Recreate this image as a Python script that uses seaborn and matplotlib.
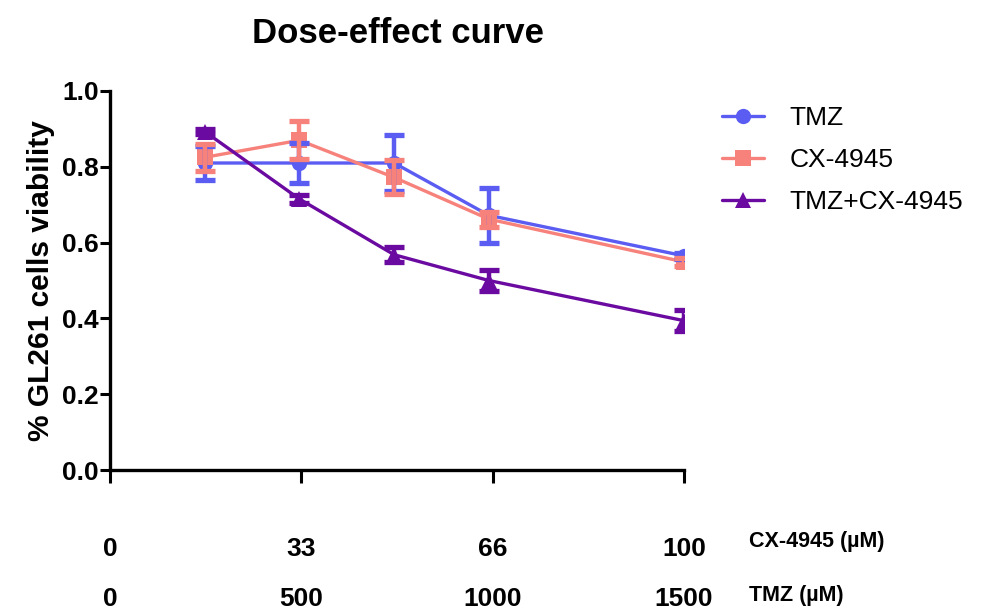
import numpy as np
import pandas as pd
import matplotlib
matplotlib.use("Agg")
import matplotlib.pyplot as plt
import seaborn as sns

# CX-4945 dose (µM) of each measurement; TMZ dose scales alongside it
dose = [16.5, 33, 49.5, 66, 100]

tmz_mean = [0.81, 0.81, 0.81, 0.672, 0.565]
tmz_err = [0.045, 0.053, 0.073, 0.072, 0.008]

cx_mean = [0.825, 0.870, 0.772, 0.662, 0.549]
cx_err = [0.035, 0.050, 0.045, 0.020, 0.010]

combo_mean = [0.893, 0.715, 0.568, 0.500, 0.394]
combo_err = [0.006, 0.010, 0.020, 0.028, 0.027]

series_names = ["TMZ", "CX-4945", "TMZ+CX-4945"]
colors = ["#5a5cf2", "#f7827c", "#6a0aa0"]
markers = ["o", "s", "^"]

axis_ticks = [0, 100 / 3, 200 / 3, 100]
cx_labels = ["0", "33", "66", "100"]
tmz_labels = ["0", "500", "1000", "1500"]

rows = []
for name, means in zip(series_names, [tmz_mean, cx_mean, combo_mean]):
    for d, m in zip(dose, means):
        rows.append({"dose": d, "viability": m, "group": name})
df = pd.DataFrame(rows)

sns.set_theme(style="white")
plt.rcParams["font.family"] = ["Liberation Sans", "DejaVu Sans"]
for key in ["text.color", "axes.labelcolor", "xtick.color", "ytick.color"]:
    plt.rcParams[key] = "black"

fig = plt.figure(figsize=(9.94, 6.14), dpi=100)
ax = fig.add_axes([110 / 994, 1 - 470 / 614, 574 / 994, 379 / 614])

sns.lineplot(data=df, x="dose", y="viability", hue="group", style="group",
             hue_order=series_names, style_order=series_names,
             palette=colors, markers=markers, dashes=False,
             markersize=11, linewidth=2.4, markeredgewidth=0,
             ax=ax, legend=False, zorder=3)

for means, errs, c in zip([tmz_mean, cx_mean, combo_mean],
                          [tmz_err, cx_err, combo_err], colors):
    ax.errorbar(dose, means, yerr=errs, fmt="none", ecolor=c,
                elinewidth=3.2, capsize=7, capthick=3.8, zorder=4)

ax.set_xlim(0, 100)
ax.set_ylim(0, 1.0)
ax.set_xticks(axis_ticks)
ax.set_xticklabels([])
ax.set_yticks([0, 0.2, 0.4, 0.6, 0.8, 1.0])
ax.set_yticklabels(["0.0", "0.2", "0.4", "0.6", "0.8", "1.0"],
                   fontsize=19, fontweight="bold")
ax.set_xlabel("")
ax.set_ylabel("% GL261 cells viability", fontsize=21.5, fontweight="bold",
              labelpad=5)

for side in ["top", "right"]:
    ax.spines[side].set_visible(False)
for side in ["left", "bottom"]:
    ax.spines[side].set_linewidth(2.4)
    ax.spines[side].set_color("black")
ax.tick_params(axis="y", direction="out", length=7, width=2.2, color="black",
               left=True, pad=1)
ax.tick_params(axis="x", direction="out", length=9, width=2.2, color="black",
               bottom=True)

fig.text(398 / 994, 1 - 43 / 614, "Dose-effect curve", ha="center",
         va="baseline", fontsize=25, fontweight="bold")

# Two rows of dose labels under the axis
row1_y = 1 - 556 / 614
row2_y = 1 - 606 / 614
for t, l1, l2 in zip(axis_ticks, cx_labels, tmz_labels):
    xf = ax.transData.transform((t, 0))[0] / fig.bbox.width
    fig.text(xf, row1_y, l1, ha="center", va="baseline", fontsize=19,
             fontweight="bold")
    fig.text(xf, row2_y, l2, ha="center", va="baseline", fontsize=19,
             fontweight="bold")
fig.text(749 / 994, 1 - 547 / 614, "CX-4945 (\u00b5M)", ha="left",
         va="baseline", fontsize=15.5, fontweight="bold")
fig.text(749 / 994, 1 - 601 / 614, "TMZ (\u00b5M)", ha="left",
         va="baseline", fontsize=15.5, fontweight="bold")

handles = [plt.Line2D([], [], color=c, marker=m, markersize=11, linewidth=2.4,
                      markeredgewidth=0)
           for c, m in zip(colors, markers)]
fig.legend(handles, series_names, loc="upper left",
           bbox_to_anchor=(722 / 994, 1 - 106 / 614), frameon=False,
           fontsize=19, handlelength=1.6, handletextpad=0.95,
           labelspacing=0.68, borderaxespad=0, borderpad=0)

fig.savefig("out.png", dpi=100)
